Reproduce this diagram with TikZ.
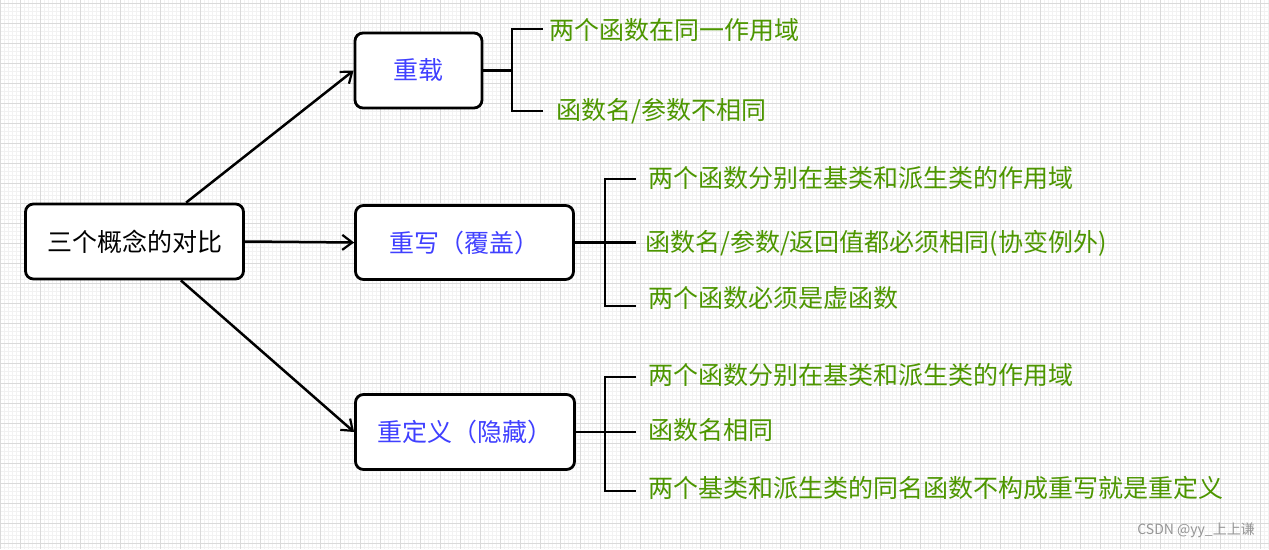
\documentclass[tikz,border=0pt]{standalone}
\usepackage{fontspec}
\setmainfont{Noto Sans CJK SC}
\usetikzlibrary{arrows.meta,calc}
\definecolor{gridmajor}{RGB}{218,218,218}
\definecolor{gridminor}{RGB}{242,242,242}
\definecolor{boxblue}{RGB}{64,64,255}
\definecolor{leafgreen}{RGB}{77,150,0}
\definecolor{wmgray}{RGB}{150,150,150}
\tikzset{
  conceptbox/.style={draw=black, line width=2.8pt, rounded corners=8pt, fill=white, inner sep=0pt, font=\fontsize{25}{29}\selectfont},
  leaf/.style={anchor=west, inner sep=0pt, text=leafgreen, font=\fontsize{25}{29}\selectfont},
  arrowline/.style={draw=black, line width=2.5pt, -{Straight Barb[length=10pt,width=15pt,line width=2.2pt]}},
  bracket/.style={draw=black, line width=2.8pt},
}
\begin{document}
\begin{tikzpicture}[x=1pt,y=-1pt]
\useasboundingbox (0,0) rectangle (1269,549);
\fill[white] (0,0) rectangle (1269,549);
% grid
\foreach \i in {0,4,...,1268} { \draw[gridminor, line width=0.6pt] (\i+0.7,0) -- (\i+0.7,549); }
\foreach \j in {0,4,...,548} { \draw[gridminor, line width=0.6pt] (0,\j+3.3) -- (1269,\j+3.3); }
\foreach \i in {0,20,...,1260} { \draw[gridmajor, line width=0.9pt] (\i+0.7,0) -- (\i+0.7,549); }
\foreach \j in {0,20,...,540} { \draw[gridmajor, line width=0.9pt] (0,\j+3.3) -- (1269,\j+3.3); }

% boxes
\node[conceptbox, minimum width=218pt, minimum height=75pt] (main) at (134.5,241.5) {三个概念的对比};
\node[conceptbox, minimum width=127pt, minimum height=75pt, text=boxblue] (ovl) at (418.5,70.5) {重载};
\node[conceptbox, minimum width=218pt, minimum height=74pt, text=boxblue] (ovr) at (464.5,242.5) {重写（覆盖）};
\node[conceptbox, minimum width=219pt, minimum height=75pt, text=boxblue] (red) at (465,432) {重定义（隐藏）};

% arrows
\draw[arrowline] (main.37) -- (ovl.west);
\draw[arrowline] (main.east) -- (ovr.west);
\draw[arrowline] (main.-40) -- (red.west);

% group 1
\node[leaf] (a1) at (549,30) {两个函数在同一作用域};
\node[leaf] (a2) at (556,111) {函数名/参数不相同};
\coordinate (s1) at (512,70.5);
\coordinate (s1t) at (512,29);
\coordinate (s1b) at (512,111);
\coordinate (e1t) at (543,29);
\coordinate (e1b) at (543,111);
\draw[bracket] (ovl.east) -- (s1);
\draw[bracket] (e1t) -- (s1t) -- (s1b) -- (e1b);

% group 2
\node[leaf] (b1) at (648,178) {两个函数分别在基类和派生类的作用域};
\node[leaf] (b2) at (645,243) {函数名/参数/返回值都必须相同(协变例外)};
\node[leaf] (b3) at (648,298) {两个函数必须是虚函数};
\coordinate (s2) at (605,242.5);
\coordinate (s2t) at (605,179);
\coordinate (s2b) at (605,306);
\coordinate (e2t) at (636,179);
\coordinate (e2m) at (636,242.5);
\coordinate (e2b) at (636,306);
\draw[bracket] (ovr.east) -- (s2) -- (e2m);
\draw[bracket] (e2t) -- (s2t) -- (s2b) -- (e2b);

% group 3
\node[leaf] (c1) at (648,375) {两个函数分别在基类和派生类的作用域};
\node[leaf] (c2) at (648,430) {函数名相同};
\node[leaf] (c3) at (648,488) {两个基类和派生类的同名函数不构成重写就是重定义};
\coordinate (s3) at (605,432);
\coordinate (s3t) at (605,377);
\coordinate (s3b) at (605,491);
\coordinate (e3t) at (636,377);
\coordinate (e3m) at (636,432);
\coordinate (e3b) at (636,491);
\draw[bracket] (red.east) -- (s3) -- (e3m);
\draw[bracket] (e3t) -- (s3t) -- (s3b) -- (e3b);

% watermark
\node[anchor=east, inner sep=0pt, text=wmgray, font=\fontsize{14}{17}\selectfont] (wm) at (1255,530) {CSDN @yy\_上上谦};
\end{tikzpicture}
\end{document}
